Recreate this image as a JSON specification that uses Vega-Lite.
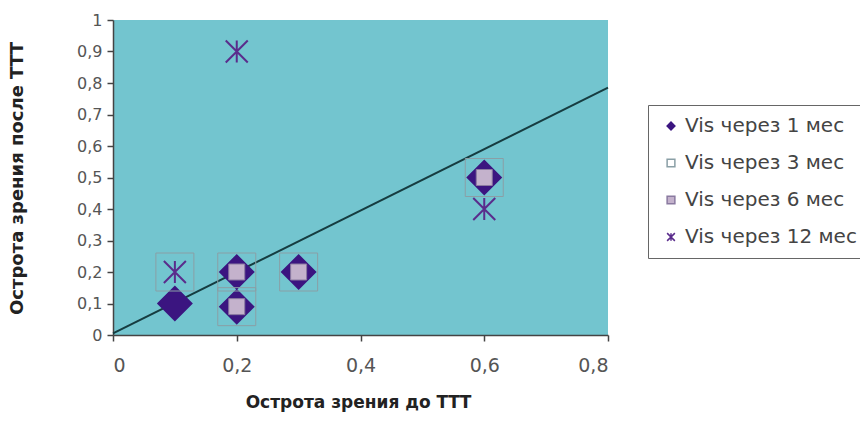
{
  "$schema": "https://vega.github.io/schema/vega-lite/v6.json",
  "width": 495,
  "height": 315,
  "autosize": "none",
  "padding": {"left": 113, "top": 20, "right": 252, "bottom": 94},
  "background": "white",
  "view": {"fill": "#73c5cf", "stroke": null},
  "config": {
    "font": "DejaVu Sans",
    "axis": {
      "grid": false,
      "domainColor": "#444",
      "domainWidth": 1.5,
      "tickColor": "#444",
      "tickWidth": 1.5,
      "tickSize": 6,
      "labelFont": "DejaVu Sans",
      "labelColor": "#555",
      "labelOverlap": false,
      "titleFont": "DejaVu Sans",
      "titleFontWeight": "bold",
      "titleColor": "#222",
      "titleFontSize": 17
    },
    "point": {"opacity": 1}
  },
  "datasets": {
    "acuity": [
      {"before": 0.1, "after": 0.1, "series": "Vis через 1 мес"},
      {"before": 0.2, "after": 0.2, "series": "Vis через 1 мес"},
      {"before": 0.2, "after": 0.09, "series": "Vis через 1 мес"},
      {"before": 0.3, "after": 0.2, "series": "Vis через 1 мес"},
      {"before": 0.6, "after": 0.5, "series": "Vis через 1 мес"},
      {"before": 0.1, "after": 0.2, "series": "Vis через 3 мес"},
      {"before": 0.2, "after": 0.2, "series": "Vis через 3 мес"},
      {"before": 0.2, "after": 0.09, "series": "Vis через 3 мес"},
      {"before": 0.3, "after": 0.2, "series": "Vis через 3 мес"},
      {"before": 0.6, "after": 0.5, "series": "Vis через 3 мес"},
      {"before": 0.2, "after": 0.2, "series": "Vis через 6 мес"},
      {"before": 0.2, "after": 0.09, "series": "Vis через 6 мес"},
      {"before": 0.3, "after": 0.2, "series": "Vis через 6 мес"},
      {"before": 0.6, "after": 0.5, "series": "Vis через 6 мес"},
      {"before": 0.1, "after": 0.2, "series": "Vis  через 12 мес"},
      {"before": 0.2, "after": 0.9, "series": "Vis  через 12 мес"},
      {"before": 0.6, "after": 0.4, "series": "Vis  через 12 мес"}
    ],
    "trend": [
      {"before": 0, "after": 0.005},
      {"before": 0.8, "after": 0.785}
    ]
  },
  "encoding": {
    "x": {
      "field": "before",
      "type": "quantitative",
      "scale": {"domain": [0, 0.8], "nice": false, "zero": true},
      "axis": {
        "title": "Острота зрения до ТТТ",
        "values": [0, 0.2, 0.4, 0.6, 0.8],
        "format": ".1~f",
        "labelExpr": "replace(datum.label, '.', ',')",
        "labelFontSize": 19,
        "labelPadding": 15,
        "titleX": 245,
        "titleY": 67,
        "titleBaseline": "middle"
      }
    },
    "y": {
      "field": "after",
      "type": "quantitative",
      "scale": {"domain": [0, 1], "nice": false},
      "axis": {
        "title": "Острота зрения после ТТТ",
        "values": [0, 0.1, 0.2, 0.3, 0.4, 0.5, 0.6, 0.7, 0.8, 0.9, 1],
        "format": ".1~f",
        "labelExpr": "replace(datum.label, '.', ',')",
        "labelFontSize": 16,
        "labelPadding": 5,
        "titleX": -96,
        "titleY": 158,
        "titleBaseline": "middle",
        "titleFontSize": 18
      }
    }
  },
  "layer": [
    {
      "data": {"name": "trend"},
      "mark": {"type": "line", "color": "#163c40", "strokeWidth": 2}
    },
    {
      "data": {"name": "acuity"},
      "transform": [{"filter": "datum.series === 'Vis через 1 мес'"}],
      "mark": {"type": "point", "size": 1100, "strokeWidth": 2},
      "encoding": {
        "shape": {"field": "series", "type": "nominal", "scale": {"domain": ["Vis через 1 мес", "Vis через 3 мес", "Vis через 6 мес", "Vis  через 12 мес"], "range": ["diamond", "square", "square", "M-1,-1L1,1M-1,1L1,-1M0,-1L0,1"]},
          "legend": {
            "title": null,
            "orient": "none",
            "legendX": 535,
            "legendY": 85,
            "padding": 11,
            "rowPadding": 17,
            "labelFont": "DejaVu Sans",
            "labelFontSize": 20,
            "labelColor": "#444",
            "labelLimit": 400,
            "symbolSize": 60,
            "symbolStrokeWidth": 1.5,
            "symbolOffset": 2,
            "labelOffset": 4,
            "strokeColor": "#666",
            "encode": {"legend": {"update": {"strokeWidth": {"value": 2}}}}
          }
        },
        "fill": {"field": "series", "type": "nominal", "scale": {"domain": ["Vis через 1 мес", "Vis через 3 мес", "Vis через 6 мес", "Vis  через 12 мес"], "range": ["#3b1580", "transparent", "#c4b2cc", "transparent"]}},
        "stroke": {"field": "series", "type": "nominal", "scale": {"domain": ["Vis через 1 мес", "Vis через 3 мес", "Vis через 6 мес", "Vis  через 12 мес"], "range": ["#3b1580", "#8a9fa6", "#8a7aa0", "#5a2c8c"]}}
      }
    },
    {
      "data": {"name": "acuity"},
      "transform": [{"filter": "datum.series === 'Vis через 3 мес'"}],
      "mark": {"type": "point", "size": 1444, "strokeWidth": 1},
      "encoding": {
        "shape": {"field": "series", "type": "nominal"},
        "fill": {"field": "series", "type": "nominal"},
        "stroke": {"field": "series", "type": "nominal"}
      }
    },
    {
      "data": {"name": "acuity"},
      "transform": [{"filter": "datum.series === 'Vis через 6 мес'"}],
      "mark": {"type": "point", "size": 256, "strokeWidth": 1},
      "encoding": {
        "shape": {"field": "series", "type": "nominal"},
        "fill": {"field": "series", "type": "nominal"},
        "stroke": {"field": "series", "type": "nominal"}
      }
    },
    {
      "data": {"name": "acuity"},
      "transform": [{"filter": "datum.series === 'Vis  через 12 мес'"}],
      "mark": {"type": "point", "size": 484, "strokeWidth": 2},
      "encoding": {
        "shape": {"field": "series", "type": "nominal"},
        "fill": {"field": "series", "type": "nominal"},
        "stroke": {"field": "series", "type": "nominal"}
      }
    }
  ]
}
